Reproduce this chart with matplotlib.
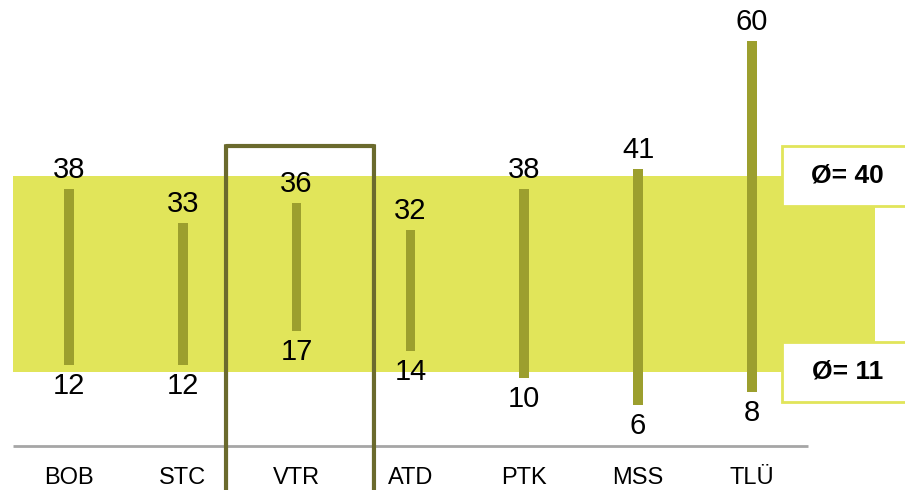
import matplotlib
matplotlib.use("Agg")
import matplotlib.pyplot as plt
from matplotlib.patches import Rectangle, FancyBboxPatch

plt.rcParams['font.family'] = ['Liberation Sans', 'DejaVu Sans']

# Data
categories = ["BOB", "STC", "VTR", "ATD", "PTK", "MSS", "TLÜ"]
max_values = [38, 33, 36, 32, 38, 41, 60]
min_values = [12, 12, 17, 14, 10, 6, 8]
avg_max = 40
avg_min = 11
highlight = "VTR"

BAND = "#e1e55a"
BAR = "#9c9f2e"
FRAME = "#6b6a2d"

fig = plt.figure(figsize=(9.05, 4.9), dpi=100)
ax = fig.add_axes([0, 0, 1, 1])
ax.set_xlim(-0.606, 7.346)
ax.set_ylim(-6.52, 66.07)
ax.axis("off")

x = list(range(len(categories)))

# Average range band
ax.add_patch(Rectangle((-0.49, avg_min), 7.57, avg_max - avg_min,
                       facecolor=BAND, edgecolor="none", zorder=1))

# Baseline
ax.plot([-0.49, 6.49], [0, 0], color="#a6a6a6", lw=2, zorder=2,
        solid_capstyle="butt")

# Min-max bars
heights = [hi - lo for hi, lo in zip(max_values, min_values)]
ax.bar(x, heights, bottom=min_values, width=0.085, color=BAR, zorder=3)

for xi, hi, lo in zip(x, max_values, min_values):
    ax.annotate(str(hi), (xi, hi), xytext=(0, 5), textcoords="offset pixels",
                ha="center", va="bottom", fontsize=21, color="black", zorder=5)
    ax.annotate(str(lo), (xi, lo), xytext=(0, -7), textcoords="offset pixels",
                ha="center", va="top", fontsize=21, color="black", zorder=5)

# Category labels
for xi, c in zip(x, categories):
    ax.text(xi, -4.74, c, ha="center", va="center", fontsize=17, color="black")

# Average boxes on the right
for val in (avg_max, avg_min):
    ax.add_patch(Rectangle((6.265, val - 4.44), 1.2, 8.88, facecolor="white",
                           edgecolor=BAND, lw=2, zorder=4))
    ax.text(6.84, val, f"Ø= {val}", ha="center", va="center", fontsize=19,
            fontweight="bold", color="black", zorder=5)

# Highlight frame around the selected category
hx = categories.index(highlight)
ax.add_patch(FancyBboxPatch((hx - 0.62, -12), 1.30, 56.44,
                            boxstyle="round,pad=0,rounding_size=0.02",
                            facecolor="none", edgecolor=FRAME, lw=3, zorder=6,
                            clip_on=False))

fig.savefig("out.png", dpi=100)
